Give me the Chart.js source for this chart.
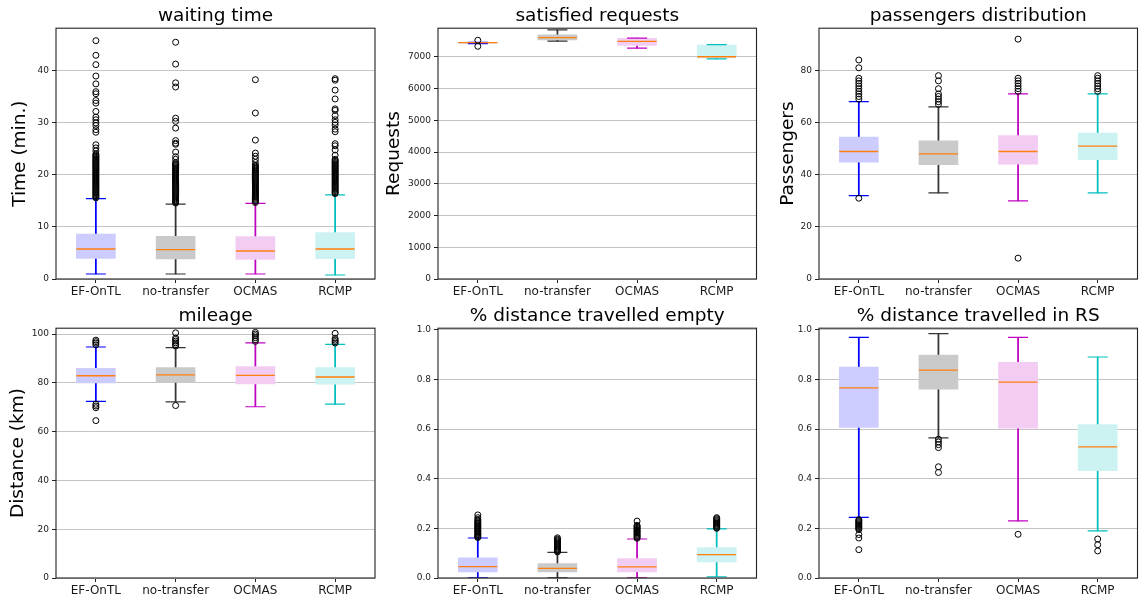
<!DOCTYPE html>
<html><head><meta charset="utf-8">
<script src="https://cdn.jsdelivr.net/npm/chart.js@4/dist/chart.umd.min.js"></script>
<style>
html,body{margin:0;padding:0;background:#fff;}
#wrap{position:relative;width:1139px;height:601px;overflow:hidden;background:#fff;}
canvas{position:absolute;}
</style></head><body><div id="wrap">
<canvas id="c1" width="378" height="300" style="left:0px;top:0px"></canvas>
<canvas id="c2" width="380" height="300" style="left:380px;top:0px"></canvas>
<canvas id="c3" width="379" height="300" style="left:760px;top:0px"></canvas>
<canvas id="c4" width="378" height="301" style="left:0px;top:300px"></canvas>
<canvas id="c5" width="380" height="301" style="left:380px;top:300px"></canvas>
<canvas id="c6" width="379" height="301" style="left:760px;top:300px"></canvas>
</div>
<script>
const categories = ['EF-OnTL', 'no-transfer', 'OCMAS', 'RCMP'];

// waiting time
const waitLow = [0.96, 0.96, 0.96, 0.77];
const waitQ1 = [3.97, 3.85, 3.78, 3.9];
const waitMedian = [5.77, 5.64, 5.38, 5.77];
const waitQ3 = [8.65, 8.2, 8.14, 8.9];
const waitHigh = [15.45, 14.4, 14.55, 16.15];
const waitOutliers = [
  [45.8, 43.0, 41.2, 39.0, 37.5, 36.0, 35.6, 34.3, 33.8, 32.2, 31.1, 30.6, 30.0, 29.5, 28.7, 28.2, 25.8, 25.2, 24.6,
   24.0, 23.8, 23.6, 23.4, 23.2, 23.0, 22.8, 22.6, 22.4, 22.2, 22.0, 21.8, 21.6, 21.4, 21.2, 21.0, 20.8, 20.6, 20.4, 20.2,
   20.0, 19.8, 19.6, 19.4, 19.2, 19.0, 18.8, 18.6, 18.4, 18.2, 18.0, 17.8, 17.6, 17.4, 17.2, 17.0, 16.8, 16.6, 16.4, 16.2,
   16.0, 15.8, 15.6],
  [45.5, 41.3, 37.7, 36.9, 30.9, 30.3, 29.0, 26.6, 26.1, 25.9, 24.4, 23.5, 23.0,
   22.4, 22.2, 22.0, 21.8, 21.6, 21.4, 21.2, 21.0, 20.8, 20.6, 20.4, 20.2, 20.0, 19.8, 19.6, 19.4, 19.2, 19.0, 18.8, 18.6,
   18.4, 18.2, 18.0, 17.8, 17.6, 17.4, 17.2, 17.0, 16.8, 16.6, 16.4, 16.2, 16.0, 15.8, 15.6, 15.4, 15.2, 15.0, 14.8, 14.6],
  [38.3, 31.9, 26.7, 24.2, 23.6, 23.0, 22.4,
   21.9, 21.7, 21.5, 21.3, 21.1, 20.9, 20.7, 20.5, 20.3, 20.1, 19.9, 19.7, 19.5, 19.3, 19.1, 18.9, 18.7, 18.5, 18.3, 18.1,
   17.9, 17.7, 17.5, 17.3, 17.1, 16.9, 16.7, 16.5, 16.3, 16.1, 15.9, 15.7, 15.5, 15.3, 15.1, 14.9, 14.7],
  [38.5, 38.2, 36.3, 34.6, 32.7, 32.4, 31.4, 30.6, 30.1, 29.6, 28.8, 28.3, 26.0, 25.6, 24.8, 23.8,
   23.0, 22.8, 22.6, 22.4, 22.2, 22.0, 21.8, 21.6, 21.4, 21.2, 21.0, 20.8, 20.6, 20.4, 20.2, 20.0, 19.8, 19.6, 19.4, 19.2,
   19.0, 18.8, 18.6, 18.4, 18.2, 18.0, 17.8, 17.6, 17.4, 17.2, 17.0, 16.8, 16.6, 16.4]
];

// satisfied requests
const reqLow = [7415, 7495, 7270, 6935];
const reqQ1 = [7425, 7530, 7360, 6965];
const reqMedian = [7445, 7600, 7485, 7000];
const reqQ3 = [7455, 7690, 7580, 7370];
const reqHigh = [7455, 7850, 7585, 7380];
const reqOutliers = [[7520, 7330], [], [], []];

// passengers distribution
const passLow = [32, 33, 30, 33];
const passQ1 = [44.8, 43.9, 44, 45.8];
const passMedian = [48.9, 48, 48.9, 51];
const passQ3 = [54.4, 53, 55, 56];
const passHigh = [68, 66, 71, 71];
const passOutliers = [
  [84, 81, 77, 76, 75, 74, 73, 72, 71, 70, 69, 31],
  [78, 76, 73, 71, 70, 69, 68, 67],
  [92, 77, 76, 75, 74, 73, 72, 8],
  [78, 77, 76, 75, 74, 73, 72]
];

// mileage
const mileLow = [72.4, 72.2, 70.2, 71.3];
const mileQ1 = [80.0, 80.2, 79.6, 79.5];
const mileMedian = [82.9, 83.3, 83.1, 82.4];
const mileQ3 = [86.0, 86.3, 86.7, 86.3];
const mileHigh = [94.7, 94.4, 96.4, 95.8];
const mileOutliers = [
  [97.5, 96.9, 96.3, 95.6, 71.2, 70.5, 69.8, 64.5],
  [100.5, 98.4, 97.8, 97.1, 96.4, 95.7, 95.1, 70.7],
  [100.7, 100.0, 99.3, 98.5, 97.7, 97.0],
  [100.3, 98.2, 97.5, 96.9, 96.3]
];

// % distance travelled empty
const emptyLow = [0.001, 0.001, 0.001, 0.005];
const emptyQ1 = [0.024, 0.024, 0.024, 0.065];
const emptyMedian = [0.046, 0.039, 0.045, 0.094];
const emptyQ3 = [0.081, 0.058, 0.078, 0.123];
const emptyHigh = [0.161, 0.103, 0.157, 0.198];
const emptyOutliers = [
  [0.254, 0.243, 0.236, 0.23, 0.226, 0.222, 0.218, 0.214, 0.21, 0.206, 0.202, 0.198, 0.194, 0.19, 0.186, 0.182, 0.178, 0.174, 0.17, 0.166, 0.163],
  [0.162, 0.157, 0.153, 0.149, 0.145, 0.141, 0.137, 0.133, 0.129, 0.125, 0.121, 0.117, 0.113, 0.109, 0.105],
  [0.229, 0.212, 0.208, 0.204, 0.2, 0.196, 0.192, 0.188, 0.184, 0.18, 0.176, 0.172, 0.168, 0.164, 0.16],
  [0.243, 0.239, 0.235, 0.231, 0.227, 0.223, 0.219, 0.215, 0.211, 0.207, 0.203, 0.2]
];

// % distance travelled in RS
const rsLow = [0.244, 0.564, 0.230, 0.190];
const rsQ1 = [0.606, 0.760, 0.603, 0.432];
const rsMedian = [0.766, 0.837, 0.789, 0.528];
const rsQ3 = [0.849, 0.898, 0.869, 0.618];
const rsHigh = [0.969, 0.984, 0.969, 0.890];
const rsOutliers = [
  [0.235, 0.231, 0.227, 0.223, 0.219, 0.215, 0.211, 0.207, 0.203, 0.199, 0.195, 0.175, 0.161, 0.114],
  [0.559, 0.548, 0.537, 0.525, 0.448, 0.425],
  [0.176],
  [0.157, 0.134, 0.109]
];

const yTickValues = {
  wait: [0, 10, 20, 30, 40],
  req: [0, 1000, 2000, 3000, 4000, 5000, 6000, 7000],
  pass: [0, 20, 40, 60, 80],
  mile: [0, 20, 40, 60, 80, 100],
  frac: [0, 0.2, 0.4, 0.6, 0.8, 1.0]
};

const whiskerColors = ['#0000ff', '#333333', '#c000c0', '#00bfbf'];
const boxColors = ['#ccccff', '#cacaca', '#f2ccf2', '#ccf2f2'];
const medianColor = '#ff7f0e';
const FONT = 'DejaVu Sans';

const framePlugin = {
  id: 'frame',
  afterDraw(chart) {
    const a = chart.chartArea, ctx = chart.ctx;
    ctx.save();
    ctx.strokeStyle = '#222';
    ctx.lineWidth = 1.1;
    ctx.strokeRect(a.left, a.top, a.right - a.left, a.bottom - a.top);
    ctx.restore();
  }
};

function buildPanel(p) {
  const outlierPts = [];
  p.outliers.forEach((arr, i) => arr.forEach(v => outlierPts.push({x: categories[i], y: v})));
  new Chart(document.getElementById(p.id), {
    type: 'bar',
    data: {
      labels: categories,
      datasets: [
        {type: 'bar', data: categories.map((c, i) => [p.low[i], p.high[i]]), backgroundColor: whiskerColors,
         barThickness: 1.1, grouped: false, borderWidth: 0, order: 4},
        {type: 'bar', data: categories.map((c, i) => [p.q1[i], p.q3[i]]), backgroundColor: boxColors,
         barThickness: 39, grouped: false, borderWidth: 0, order: 3},
        {type: 'line', data: p.low, showLine: false, pointStyle: 'line', pointRadius: 10,
         pointBorderColor: whiskerColors, pointBackgroundColor: whiskerColors, pointBorderWidth: 1.2, order: 2},
        {type: 'line', data: p.high, showLine: false, pointStyle: 'line', pointRadius: 10,
         pointBorderColor: whiskerColors, pointBackgroundColor: whiskerColors, pointBorderWidth: 1.2, order: 2},
        {type: 'line', data: p.med, showLine: false, pointStyle: 'line', pointRadius: 19.5,
         pointBorderColor: medianColor, pointBackgroundColor: medianColor, pointBorderWidth: 1.3, order: 1},
        {type: 'line', data: outlierPts, showLine: false, pointStyle: 'circle', pointRadius: 3,
         pointBorderColor: '#000', pointBackgroundColor: 'rgba(0,0,0,0)', pointBorderWidth: 1, order: 0}
      ]
    },
    options: {
      responsive: false,
      animation: false,
      devicePixelRatio: 1,
      events: [],
      layout: {autoPadding: false, padding: {left: 0, right: p.padRight, top: 0, bottom: 0}},
      plugins: {
        legend: {display: false},
        tooltip: {enabled: false},
        title: {display: true, text: p.title, fullSize: false, color: '#000',
                font: {family: FONT, size: 18.5, weight: 'normal'}, padding: {top: 5, bottom: 1}}
      },
      scales: {
        x: {
          type: 'category', offset: true,
          grid: {display: true, drawOnChartArea: false, offset: false, tickLength: 4, tickColor: '#222', color: '#222'},
          border: {display: false},
          ticks: {font: {family: FONT, size: 12}, color: '#1a1a1a', padding: 2, maxRotation: 0, autoSkip: false},
          afterFit: (s) => { s.height = p.xAxisH; }
        },
        y: {
          type: 'linear', min: p.min, max: p.max,
          afterBuildTicks: (s) => { s.ticks = p.ticks.map(v => ({value: v})); },
          grid: {color: '#c4c4c4', lineWidth: 1, tickLength: 4, tickColor: '#222', drawTicks: true},
          border: {display: false},
          ticks: {font: {family: FONT, size: 9}, color: '#1a1a1a', padding: 3,
                  callback: (v) => p.decimals ? Number(v).toFixed(p.decimals) : String(v)},
          title: {display: !!p.yTitle, text: p.yTitle || '', color: '#000',
                  font: {family: FONT, size: 18.5, weight: 'normal'}, padding: {top: p.yTitlePad, bottom: 0}},
          afterFit: (s) => { s.width = p.axisW; }
        }
      }
    },
    plugins: [framePlugin]
  });
}

buildPanel({id: 'c1', title: 'waiting time', yTitle: 'Time (min.)', yTitlePad: 9, axisW: 56, padRight: 3, xAxisH: 21,
  min: 0, max: 48.2, ticks: yTickValues.wait, decimals: 0,
  low: waitLow, q1: waitQ1, med: waitMedian, q3: waitQ3, high: waitHigh, outliers: waitOutliers});
buildPanel({id: 'c2', title: 'satisfied requests', yTitle: 'Requests', yTitlePad: 3, axisW: 58, padRight: 3.5, xAxisH: 21,
  min: 0, max: 7900, ticks: yTickValues.req, decimals: 0,
  low: reqLow, q1: reqQ1, med: reqMedian, q3: reqQ3, high: reqHigh, outliers: reqOutliers});
buildPanel({id: 'c3', title: 'passengers distribution', yTitle: 'Passengers', yTitlePad: 17, axisW: 59, padRight: 1.5, xAxisH: 21,
  min: 0, max: 96.2, ticks: yTickValues.pass, decimals: 0,
  low: passLow, q1: passQ1, med: passMedian, q3: passQ3, high: passHigh, outliers: passOutliers});
buildPanel({id: 'c4', title: 'mileage', yTitle: 'Distance (km)', yTitlePad: 7, axisW: 56, padRight: 3, xAxisH: 23,
  min: 0, max: 102.4, ticks: yTickValues.mile, decimals: 0,
  low: mileLow, q1: mileQ1, med: mileMedian, q3: mileQ3, high: mileHigh, outliers: mileOutliers});
buildPanel({id: 'c5', title: '% distance travelled empty', yTitle: '', yTitlePad: 0, axisW: 58, padRight: 3.5, xAxisH: 23,
  min: 0, max: 1.006, ticks: yTickValues.frac, decimals: 1,
  low: emptyLow, q1: emptyQ1, med: emptyMedian, q3: emptyQ3, high: emptyHigh, outliers: emptyOutliers});
buildPanel({id: 'c6', title: '% distance travelled in RS', yTitle: '', yTitlePad: 0, axisW: 59, padRight: 1.5, xAxisH: 23,
  min: 0, max: 1.006, ticks: yTickValues.frac, decimals: 1,
  low: rsLow, q1: rsQ1, med: rsMedian, q3: rsQ3, high: rsHigh, outliers: rsOutliers});
</script>
</body></html>
